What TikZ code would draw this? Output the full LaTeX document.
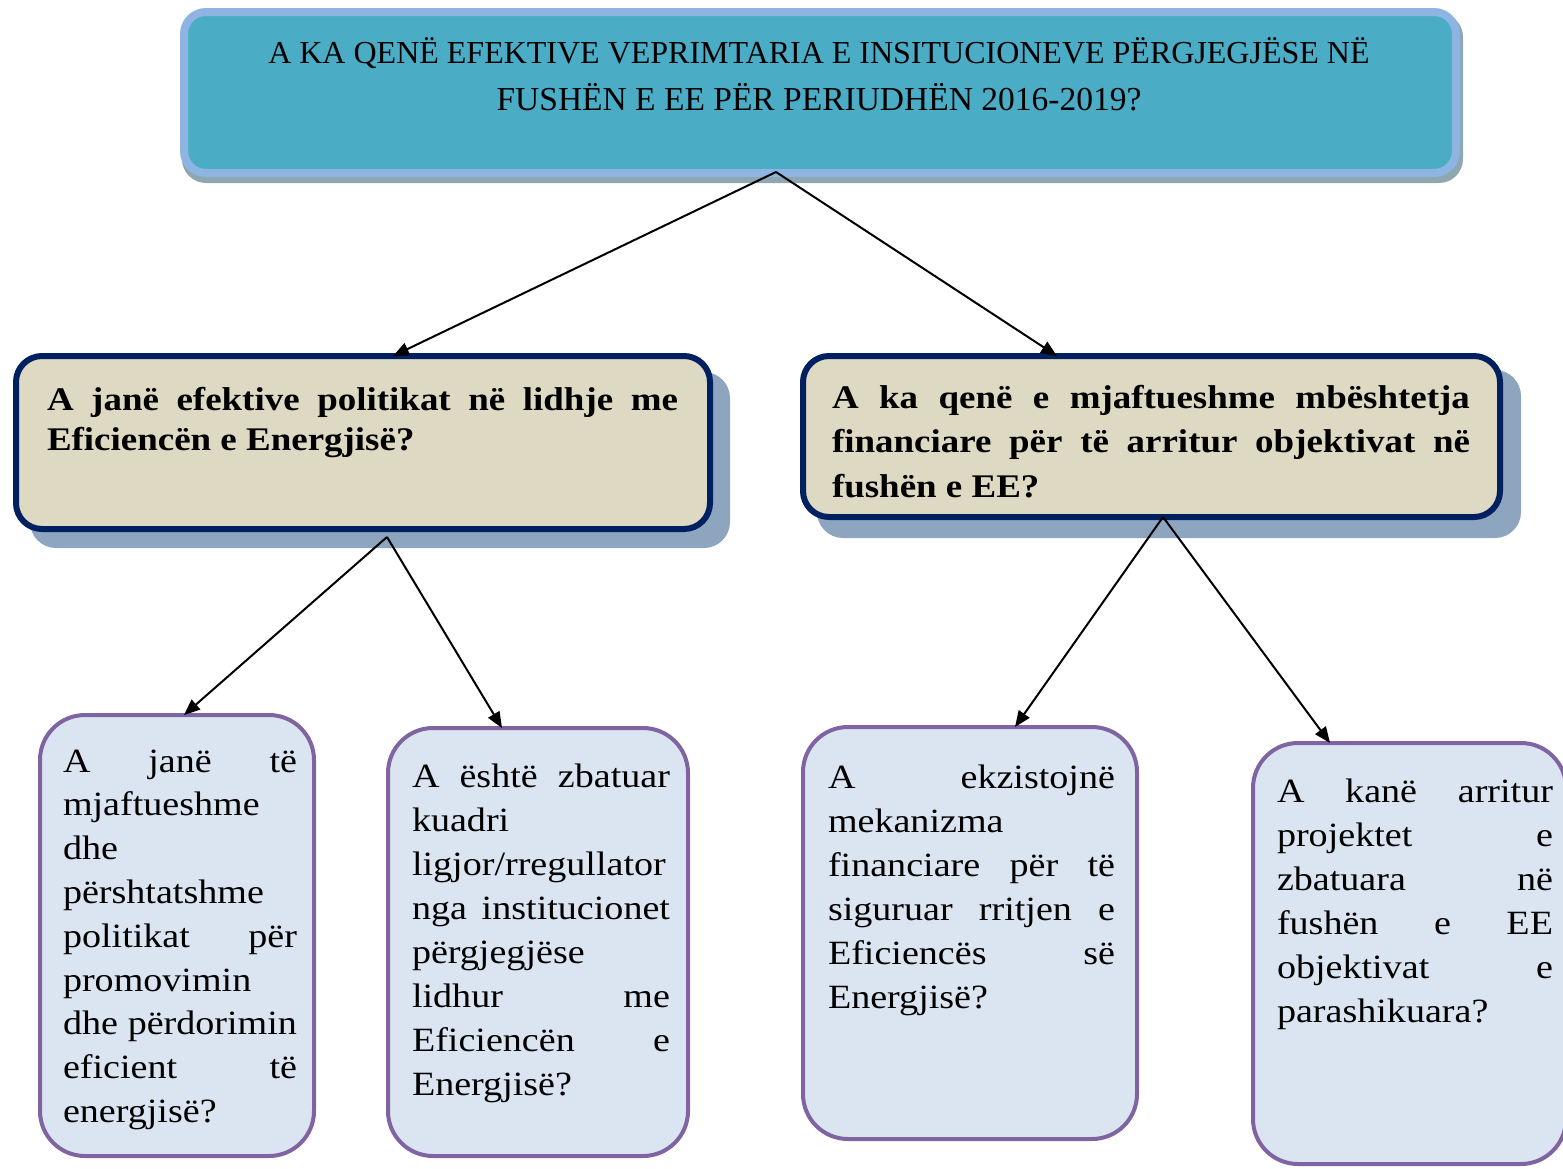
\documentclass[tikz,border=0pt]{standalone}
\usepackage{fontspec}
\usetikzlibrary{arrows.meta,calc}
\newfontfamily\bodyfont{Liberation Serif}[FakeStretch=1.12]
\newfontfamily\headfont{Liberation Serif}
\newcommand\jline[1]{\hbox to \hsize{#1}}
\newcommand\lline[1]{\hbox to \hsize{#1\hfil}}
\newcommand\centline[1]{\hbox to \hsize{\hfil#1\hfil}}
\definecolor{topfill}{HTML}{4BACC6}
\definecolor{topborder}{HTML}{8EB4E3}
\definecolor{topshadow}{HTML}{8FA8B0}
\definecolor{midfill}{HTML}{DDD9C3}
\definecolor{midborder}{HTML}{002060}
\definecolor{midshadow}{HTML}{8EA5C0}
\definecolor{lowfill}{HTML}{DBE5F1}
\definecolor{lowborder}{HTML}{8064A2}
\tikzset{
  topbox/.style={draw=topborder, fill=topfill, line width=8pt, rounded corners=22pt, outer sep=0pt, inner sep=0pt, anchor=north west},
  midbox/.style={draw=midborder, fill=midfill, line width=6pt, rounded corners=26pt, outer sep=0pt, inner sep=0pt, anchor=north west},
  lowbox/.style={draw=lowborder, fill=lowfill, line width=4pt, rounded corners=45pt, outer sep=0pt, inner sep=0pt, anchor=north west},
  txt/.style={inner sep=0pt, outer sep=0pt, anchor=base west},
  arr/.style={draw=black, line width=2pt, -{Triangle[length=16pt,width=13pt]}}
}
\begin{document}
\begin{tikzpicture}[x=1pt,y=-1pt]
\useasboundingbox (0,0) rectangle (1563,1168);
% shadows
\fill[topshadow, rounded corners=24pt] (182,13) rectangle (1463,183);
\fill[midshadow, rounded corners=26pt] (30,372) rectangle (730,548);
\fill[midshadow, rounded corners=26pt] (817,370) rectangle (1521,538);
% boxes
\node[topbox, minimum width=1272pt, minimum height=161pt] (top) at (184,12) {};
\node[midbox, minimum width=694pt, minimum height=173pt] (L2) at (16,356) {};
\node[midbox, minimum width=697pt, minimum height=161pt] (R2) at (803,356) {};
\node[lowbox, minimum width=274pt, minimum height=441pt] (A) at (40,715) {};
\node[lowbox, minimum width=300pt, minimum height=428pt] (B) at (388,728) {};
\node[lowbox, minimum width=334pt, minimum height=412pt] (C) at (803,727) {};
\node[lowbox, minimum width=313pt, minimum height=421pt] (D) at (1253,743) {};
% texts
\node[inner sep=0pt, anchor=base] (ttop) at (819,63) {\vtop{\hsize=1250pt \headfont\fontsize{32pt}{47pt}\selectfont
  \centline{A KA QENË EFEKTIVE VEPRIMTARIA E INSITUCIONEVE PËRGJEGJËSE NË}
  \centline{\fontsize{33.5pt}{47pt}\selectfont FUSHËN E EE PËR PERIUDHËN 2016-2019?}}};
\node[txt] (tL2) at (47,410) {\vtop{\hsize=631pt \bodyfont\bfseries\fontsize{33pt}{40pt}\selectfont
  \jline{A\hfill janë\hfill efektive\hfill politikat\hfill në\hfill lidhje\hfill me}
  \lline{Eficiencën e Energjisë?}}};
\node[txt] (tR2) at (832,408) {\vtop{\hsize=638pt \bodyfont\bfseries\fontsize{33pt}{44.5pt}\selectfont
  \jline{A\hfill ka\hfill qenë\hfill e\hfill mjaftueshme\hfill mbështetja}
  \jline{financiare\hfill për\hfill të\hfill arritur\hfill objektivat\hfill në}
  \lline{fushën e EE?}}};
\node[txt] (tA) at (63,772) {\vtop{\hsize=234pt \bodyfont\fontsize{34pt}{43.8pt}\selectfont
  \jline{A\hfill janë\hfill të}
  \lline{mjaftueshme}
  \lline{dhe}
  \lline{përshtatshme}
  \jline{politikat\hfill për}
  \lline{promovimin}
  \jline{dhe\hfill përdorimin}
  \jline{eficient\hfill të}
  \lline{energjisë?}}};
\node[txt] (tB) at (412,787) {\vtop{\hsize=258pt \bodyfont\fontsize{34pt}{44pt}\selectfont
  \jline{A\hfill është\hfill zbatuar}
  \lline{kuadri}
  \lline{ligjor/rregullator}
  \jline{nga\hfill institucionet}
  \lline{përgjegjëse}
  \jline{lidhur\hfill me}
  \jline{Eficiencën\hfill e}
  \lline{Energjisë?}}};
\node[txt] (tC) at (828,788) {\vtop{\hsize=287pt \bodyfont\fontsize{34pt}{44pt}\selectfont
  \jline{A\hfill ekzistojnë}
  \lline{mekanizma}
  \jline{financiare\hfill për\hfill të}
  \jline{siguruar\hfill rritjen\hfill e}
  \jline{Eficiencës\hfill së}
  \lline{Energjisë?}}};
\node[txt] (tD) at (1277,802) {\vtop{\hsize=276pt \bodyfont\fontsize{34pt}{44pt}\selectfont
  \jline{A\hfill kanë\hfill arritur}
  \jline{projektet\hfill e}
  \jline{zbatuara\hfill në}
  \jline{fushën\hfill e\hfill EE}
  \jline{objektivat\hfill e}
  \lline{parashikuara?}}};
% connector start points
\coordinate (s0) at ([xshift=-44pt,yshift=1pt]top.south);
\coordinate (s1) at ([xshift=24pt,yshift=-8pt]L2.south);
\coordinate (s2) at ([xshift=11.5pt]R2.south);
% connectors
\draw[arr] (s0) -- ([xshift=30pt]L2.north);
\draw[arr] (s0) -- ([xshift=-94.5pt]R2.north);
\draw[arr] (s1) -- ([xshift=7pt]A.north);
\draw[arr] (s1) -- ([xshift=-36pt]B.north);
\draw[arr] (s2) -- ([xshift=45pt]C.north);
\draw[arr] (s2) -- ([xshift=-79.5pt]D.north);
\end{tikzpicture}
\end{document}
